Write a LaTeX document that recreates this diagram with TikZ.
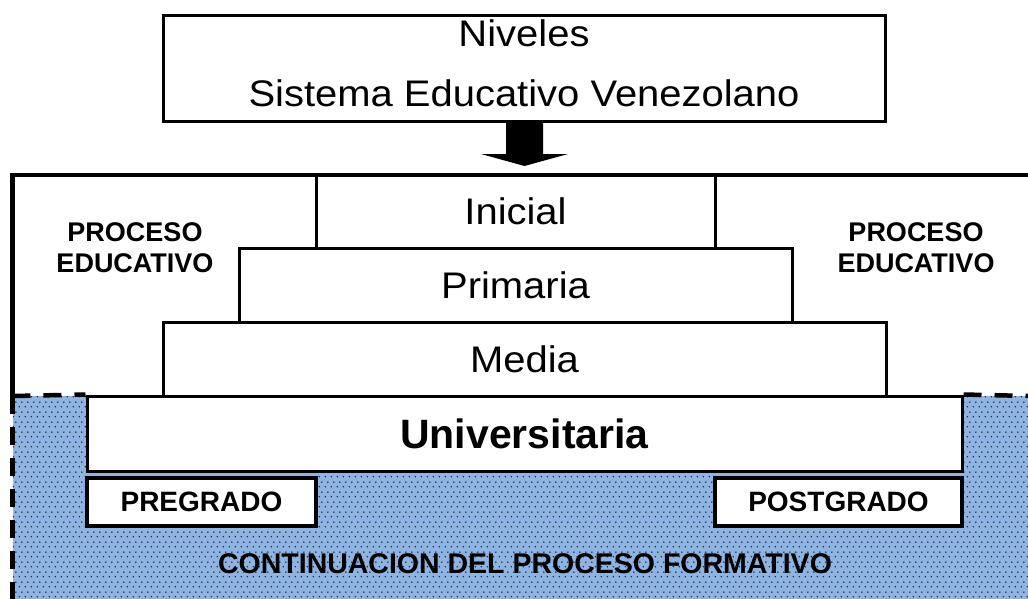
\documentclass[tikz,border=0pt]{standalone}
\usepackage{fontspec}
\setmainfont{Liberation Sans}
\usetikzlibrary{patterns}
\definecolor{blueback}{HTML}{8DB4E2}
\newcommand{\widetext}[1]{\scalebox{1.08}[1]{#1}}
\pgfdeclarepatternformonly{mydots}{\pgfqpoint{0pt}{0pt}}{\pgfqpoint{6pt}{10pt}}{\pgfqpoint{6pt}{10pt}}{%
  \pgfpathcircle{\pgfqpoint{1.5pt}{2.5pt}}{0.9pt}%
  \pgfpathcircle{\pgfqpoint{4.5pt}{7.5pt}}{0.9pt}%
  \pgfusepath{fill}}
\tikzset{
  levelbox/.style={draw=black, line width=3pt, fill=white, inner sep=0pt, rectangle},
  subbox/.style={draw=black, line width=4pt, fill=white, inner sep=0pt, rectangle,
     font=\fontsize{28}{32}\selectfont\bfseries},
  regtext/.style={font=\fontsize{37}{60}\selectfont},
  sidetext/.style={font=\fontsize{27}{31.3}\selectfont\bfseries, align=center, inner sep=0pt},
  framestyle/.style={line width=4.5pt, line cap=rect},
  dashstyle/.style={line width=4.5pt, dash pattern=on 18pt off 13pt}
}
\begin{document}
\begin{tikzpicture}[x=1pt,y=-1pt]
\useasboundingbox (0,0) rectangle (1028,598);
% blue continuation region
\fill[blueback] (12.5,396) rectangle (1030,600);
\fill[pattern=mydots, pattern color=black!85] (12.5,396) rectangle (1030,600);
% top title box
\node[levelbox, minimum width=722pt, minimum height=106pt] (title) at (524,68.5) {};
\node[regtext, inner sep=0pt, align=center] (titletext) at (524,63.5) {\widetext{Niveles}\\\widetext{Sistema Educativo Venezolano}};
% arrow
\coordinate (arrtip) at (524.5,166);
\fill[black] (title.south -| 506,0) -- (506,154) -- (481,154) -- (arrtip) -- (568,154) -- (543,154) -- (title.south -| 543,0) -- cycle;
% level boxes
\node[levelbox, regtext, minimum width=399pt, minimum height=73pt] (inicial) at (515.5,211.5) {\widetext{Inicial}};
\node[levelbox, regtext, minimum width=553pt, minimum height=74pt] (primaria) at (515.5,285) {\widetext{Primaria}};
\node[levelbox, regtext, minimum width=723pt, minimum height=74pt] (media) at (524.5,359) {\widetext{Media}};
\node[levelbox, minimum width=875pt, minimum height=75pt, font=\fontsize{41}{48}\selectfont\bfseries] (univ) at (524.5,433.5) {Universitaria};
% frame
\draw[framestyle] (12.5,396) -- (12.5,175) -- (1032,175);
\draw[dashstyle] (12.5,396) -- (12.5,600);
\draw[dashstyle] (12.5,396) -- (univ.north west);
\draw[dashstyle] (univ.north east) -- (1030,396);
% sub boxes
\node[subbox, minimum width=229pt, minimum height=48pt] (pregrado) at (201.5,502) {PREGRADO};
\node[subbox, minimum width=247pt, minimum height=48pt] (postgrado) at (838.5,502) {POSTGRADO};
% side labels
\node[sidetext] (procL) at (135,247.7) {PROCESO\\EDUCATIVO};
\node[sidetext] (procR) at (916,247.7) {PROCESO\\EDUCATIVO};
\node[font=\fontsize{28.5}{32}\selectfont\bfseries, anchor=base, inner sep=0pt] (cont) at (525,573.3) {CONTINUACION DEL PROCESO FORMATIVO};
\end{tikzpicture}
\end{document}
